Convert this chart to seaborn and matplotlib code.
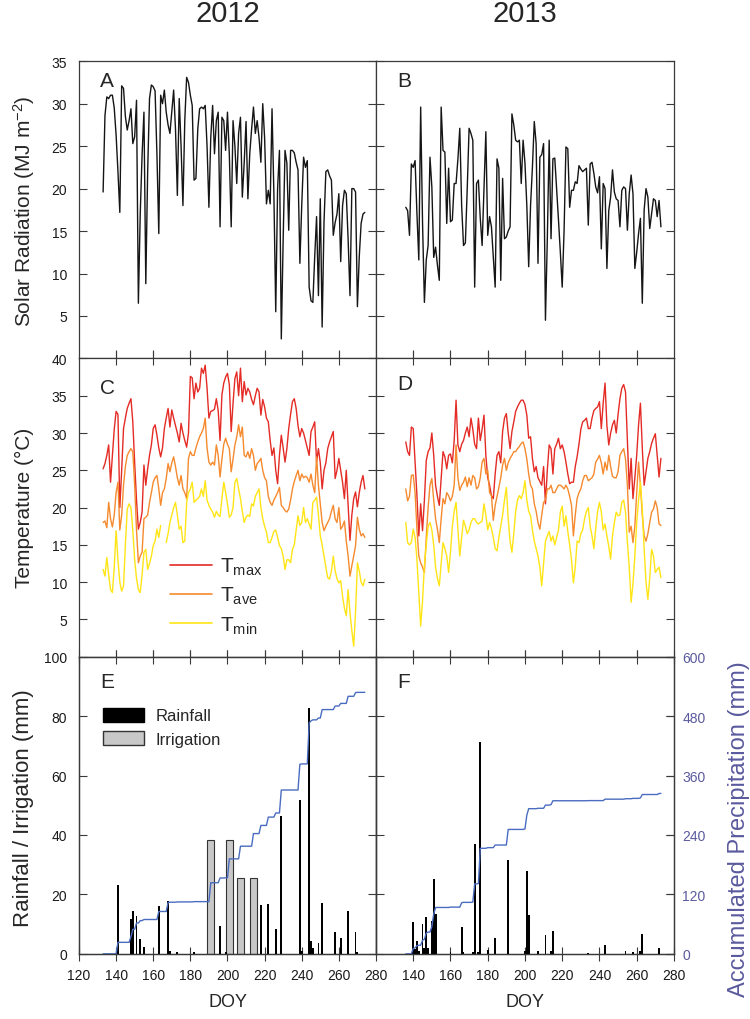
import numpy as np
import pandas as pd
import seaborn as sns
import matplotlib.pyplot as plt
from matplotlib.patches import Patch
from matplotlib.lines import Line2D

# ---- daily weather, values ----
# solar radiation (MJ m-2), 2012 starts DOY 133, 2013 starts DOY 136
solar_2012 = [19.6, 28.6, 30.8, 30.6, 31.0, 31.0, 29.5, 26.3, 22.0, 17.2,
              32.1, 31.8, 28.5, 26.9, 28.0, 29.4, 25.3, 26.1, 30.4, 6.5,
              17.0, 24.0, 29.0, 8.8, 22.0, 30.6, 32.2, 32.0, 31.5, 24.0,
              14.7, 31.0, 30.0, 31.6, 29.0, 27.5, 26.5, 29.0, 31.6, 27.0,
              19.2, 30.6, 25.0, 18.0, 28.0, 33.1, 32.5, 31.0, 29.8, 21.0,
              21.2, 27.0, 29.4, 29.6, 29.4, 29.8, 25.0, 17.8, 26.0, 29.8,
              24.1, 28.0, 29.0, 15.5, 28.4, 28.0, 24.5, 29.0, 24.0, 15.5,
              28.0, 25.0, 20.6, 26.5, 28.4, 19.0, 23.0, 27.9, 18.8, 24.1,
              27.0, 29.6, 26.5, 28.0, 26.0, 23.1, 30.0, 26.0, 18.2, 19.8,
              18.2, 29.4, 19.4, 5.5, 20.0, 24.5, 2.3, 14.0, 24.5, 23.0,
              15.1, 24.5, 24.5, 24.2, 23.1, 22.2, 11.2, 18.0, 23.7, 22.5,
              23.3, 8.4, 6.8, 6.6, 12.0, 16.7, 7.4, 18.8, 3.7, 16.0,
              22.0, 22.2, 21.5, 21.0, 14.5, 16.0, 17.0, 19.4, 11.4, 18.0,
              19.8, 19.4, 14.0, 7.4, 20.0, 20.0, 19.6, 6.1, 12.0, 15.9,
              17.0, 17.2]
solar_2013 = [17.8, 17.4, 14.5, 22.9, 22.5, 23.3, 17.0, 11.6, 29.6, 16.0,
              6.6, 11.6, 13.3, 23.7, 20.2, 11.9, 13.1, 11.0, 9.2, 29.6,
              24.5, 24.3, 15.9, 22.4, 16.1, 16.3, 20.6, 20.6, 23.5, 27.1,
              18.0, 13.3, 13.6, 20.0, 27.1, 26.5, 25.7, 8.4, 20.6, 21.0,
              16.5, 13.3, 20.0, 26.7, 14.5, 16.7, 15.5, 12.0, 8.4, 23.5,
              22.4, 9.2, 21.2, 14.1, 14.3, 15.0, 15.5, 28.8, 27.5, 25.7,
              25.5, 25.7, 20.6, 25.7, 23.0, 18.0, 10.8, 18.0, 22.5, 27.9,
              25.3, 11.2, 23.7, 24.0, 25.3, 4.5, 14.0, 25.7, 14.1, 23.5,
              23.6, 20.0, 16.3, 12.5, 8.4, 15.0, 24.9, 24.7, 17.8, 19.8,
              19.8, 20.8, 20.6, 22.7, 22.3, 22.0, 22.2, 22.4, 15.7, 22.9,
              23.1, 21.8, 20.2, 19.5, 21.4, 12.9, 20.6, 20.0, 10.6, 17.4,
              19.0, 22.2, 19.6, 18.8, 18.6, 15.5, 19.8, 20.2, 20.0, 15.1,
              19.4, 21.6, 19.4, 10.6, 12.5, 14.7, 16.5, 6.5, 17.5, 20.0,
              19.0, 15.3, 17.0, 18.8, 18.6, 16.7, 18.6, 15.5]

# air temperature (degC)
tmax_2012 = [25.2, 25.9, 27.0, 28.4, 23.4, 27.0, 30.5, 32.9, 32.5, 20.0,
             25.0, 30.6, 32.0, 33.3, 34.0, 34.6, 31.5, 26.0, 21.0, 17.1,
             18.0, 19.4, 25.7, 23.0, 25.2, 27.0, 28.4, 30.6, 31.1, 29.7,
             28.0, 26.8, 28.0, 30.6, 32.0, 33.3, 30.8, 33.1, 32.0, 31.0,
             30.0, 28.8, 31.3, 30.0, 29.0, 28.1, 30.0, 37.6, 37.4, 34.6,
             36.7, 35.5, 36.0, 38.7, 38.0, 39.1, 36.0, 32.0, 32.9, 33.0,
             33.2, 34.6, 33.0, 29.0, 35.1, 36.7, 37.5, 38.0, 36.5, 30.2,
             34.0, 37.3, 38.2, 35.0, 38.7, 34.2, 36.9, 35.1, 36.0, 35.5,
             34.5, 33.8, 35.0, 36.0, 35.5, 32.4, 34.5, 33.5, 32.0, 31.5,
             29.0, 27.0, 28.0, 25.0, 23.2, 27.0, 29.7, 28.0, 26.1, 27.9,
             30.6, 32.5, 34.2, 34.6, 33.3, 31.0, 29.5, 30.6, 30.0, 29.0,
             28.0, 27.0, 30.2, 30.8, 31.5, 26.1, 27.9, 26.0, 22.5, 25.0,
             26.0, 27.9, 28.8, 29.5, 30.2, 23.9, 25.0, 26.6, 25.0, 23.4,
             21.2, 25.0, 20.3, 15.6, 19.0, 21.2, 22.1, 20.1, 22.0, 23.4,
             24.3, 22.5]
tave_2012 = [18.0, 18.2, 17.3, 20.7, 18.5, 17.4, 19.0, 22.0, 23.4, 17.0,
             19.0, 23.0, 25.5, 27.0, 27.5, 27.9, 27.5, 23.0, 17.0, 12.6,
             13.5, 14.0, 18.5, 18.7, 19.0, 20.7, 22.0, 23.4, 24.0, 24.3,
             22.5, 20.3, 22.0, 22.5, 23.9, 25.9, 24.8, 26.0, 26.8, 25.5,
             24.0, 23.0, 24.3, 22.5, 22.0, 21.2, 26.6, 27.5, 27.0, 27.0,
             28.0, 28.8, 29.5, 30.0, 30.6, 32.0, 28.0, 26.1, 25.7, 26.1,
             25.7, 28.4, 27.0, 24.1, 26.5, 28.5, 29.3, 28.5, 27.9, 24.8,
             26.5, 28.4, 29.5, 31.1, 29.5, 30.8, 27.0, 26.8, 27.5, 26.6,
             27.9, 27.0, 25.0, 25.9, 26.2, 26.6, 25.0, 24.0, 23.6, 21.5,
             20.7, 20.3, 21.0, 21.5, 22.0, 22.7, 20.3, 20.0, 19.6, 19.4,
             19.8, 21.0, 22.5, 23.5, 24.3, 25.0, 23.6, 24.5, 24.0, 24.2,
             24.0, 23.4, 24.5, 23.0, 22.0, 26.8, 23.0, 20.5, 18.0, 16.9,
             17.5, 18.0, 18.5, 19.5, 20.3, 18.5, 18.0, 20.0, 17.1, 17.5,
             18.2, 15.5, 13.5, 10.8, 12.2, 13.5, 14.9, 18.7, 17.1, 16.2,
             16.5, 16.0]
tmin_2012 = [11.7, 10.8, 13.3, 11.0, 9.0, 8.6, 12.0, 16.9, 13.0, 10.0,
             8.8, 9.5, 15.0, 19.8, 20.5, 20.0, 17.0, 13.0, 10.5, 9.0,
             8.6, 11.0, 14.0, 14.4, 11.7, 12.5, 13.5, 14.9, 15.5, 17.1,
             16.0, 17.6, np.nan, np.nan, 15.3, 16.5, 18.0, 19.0, 20.0, 20.7,
             19.0, 17.1, 17.5, 15.3, 15.5, 20.7, 22.0, 22.5, 23.4, 20.7,
             21.0, 21.2, 21.5, 22.5, 21.5, 23.6, 21.0, 20.3, 19.8, 19.4,
             18.7, 19.5, 19.0, 18.8, 21.2, 23.4, 22.0, 20.5, 18.7, 19.0,
             20.0, 23.4, 23.9, 22.5, 21.2, 19.5, 18.0, 18.7, 19.0, 18.8,
             20.5, 20.2, 21.5, 22.0, 22.5, 20.0, 18.5, 17.5, 16.7, 15.3,
             15.3, 16.0, 16.8, 17.0, 16.0, 14.9, 14.5, 13.5, 11.7, 13.0,
             13.0, 12.6, 14.4, 15.0, 17.0, 18.9, 17.6, 18.0, 20.0, 18.0,
             18.5, 17.8, 17.1, 20.7, 21.0, 21.4, 19.0, 16.2, 15.0, 13.5,
             12.0, 10.6, 10.4, 11.5, 13.5, 11.5, 10.5, 9.9, 10.2, 8.1,
             6.5, 5.5, 9.0, 5.9, 3.5, 1.4, 6.0, 12.6, 11.5, 10.0,
             9.5, 10.4]
tmax_2013 = [28.8, 27.5, 27.0, 30.8, 30.6, 26.0, 21.6, 16.2, 20.5, 16.9,
             21.0, 26.3, 27.5, 28.0, 30.0, 27.0, 23.0, 21.5, 20.3, 24.0,
             27.5, 26.8, 25.2, 27.0, 27.2, 26.0, 29.0, 34.4, 28.4, 27.5,
             28.5, 29.0, 30.0, 30.8, 29.5, 32.0, 30.5, 28.5, 27.9, 32.0,
             29.0, 30.5, 32.4, 27.0, 24.0, 23.0, 21.6, 21.2, 24.5, 27.0,
             27.5, 26.0, 30.2, 32.0, 32.6, 30.0, 27.9, 30.2, 31.5, 32.9,
             33.5, 34.0, 34.4, 34.4, 33.8, 32.4, 29.3, 29.5, 26.6, 24.8,
             25.5, 24.0, 23.5, 23.0, 25.5, 20.5, 25.0, 28.4, 27.9, 24.5,
             27.9, 28.5, 29.3, 27.9, 28.4, 27.5, 26.1, 24.5, 23.2, 23.4,
             23.4, 25.5, 26.8, 28.5, 30.5, 31.5, 31.7, 32.0, 30.6, 30.6,
             32.0, 33.0, 33.3, 33.5, 34.2, 30.6, 34.0, 36.7, 31.0, 28.4,
             30.0, 31.1, 31.7, 30.0, 32.5, 34.6, 36.0, 36.5, 35.5, 29.0,
             22.5, 26.6, 21.2, 24.0, 27.0, 31.1, 34.0, 28.0, 23.0, 24.8,
             26.6, 27.5, 28.6, 29.3, 29.9, 27.0, 24.1, 26.6]
tave_2013 = [22.5, 20.9, 21.5, 24.3, 24.4, 22.0, 17.1, 13.5, 12.6, 12.0,
             11.3, 16.0, 20.0, 23.0, 23.9, 21.0, 18.5, 17.1, 15.3, 18.5,
             21.2, 20.5, 22.0, 21.6, 20.9, 21.5, 23.0, 28.4, 24.0, 22.3,
             23.0, 23.4, 24.1, 22.8, 24.0, 23.0, 24.3, 24.0, 22.5, 22.8,
             24.0, 26.1, 26.6, 24.5, 25.0, 22.0, 21.6, 18.3, 20.3, 21.5,
             22.7, 24.0, 25.7, 26.6, 25.0, 26.0, 26.6, 27.0, 27.5, 27.5,
             27.9, 28.2, 28.6, 28.8, 27.9, 26.5, 24.5, 23.0, 22.5, 20.5,
             19.5, 18.0, 17.1, 19.0, 20.7, 21.0, 22.5, 22.5, 23.0, 22.0,
             22.0, 22.5, 23.0, 23.0, 22.8, 22.5, 23.0, 22.5, 21.5, 20.3,
             16.2, 19.0, 21.2, 22.0, 22.5, 23.6, 24.3, 24.3, 23.6, 23.8,
             24.0, 24.5, 26.1, 26.5, 27.0, 26.0, 24.5, 26.1, 25.0, 27.0,
             25.5, 24.2, 24.0, 24.0, 24.8, 27.0, 27.5, 27.9, 26.5, 23.0,
             16.7, 17.5, 15.3, 17.5, 22.0, 26.1, 23.0, 19.0, 16.2, 15.5,
             16.5, 18.0, 19.4, 19.8, 20.9, 20.0, 17.8, 17.6]
tmin_2013 = [18.0, 15.3, 15.0, 15.3, 17.1, 16.0, 13.0, 8.5, 4.1, 7.5,
             12.2, 15.0, 17.5, 18.0, 17.0, 15.0, 12.0, 10.5, 9.5, 12.5,
             15.3, 14.5, 13.5, 11.3, 14.0, 17.5, 19.5, 20.7, 17.0, 13.5,
             16.0, 18.3, 17.5, 16.5, 17.0, 18.0, 18.5, 18.5, 18.0, 17.8,
             18.0, 18.2, 20.5, 19.0, 17.0, 18.0, 17.2, 16.0, 14.5, 14.2,
             16.0, 17.5, 19.0, 21.0, 22.7, 18.5, 15.5, 14.0, 16.5, 19.5,
             21.0, 21.6, 21.2, 22.0, 23.6, 21.0, 19.5, 18.9, 17.0, 15.5,
             14.5, 13.5, 12.0, 9.5, 12.5, 15.5, 16.2, 16.8, 15.5, 16.2,
             15.0, 16.0, 17.0, 19.4, 20.2, 17.5, 18.9, 16.8, 15.0, 13.0,
             9.9, 12.0, 15.5, 15.3, 16.5, 17.0, 18.5, 19.5, 20.0, 17.5,
             16.2, 14.5, 17.2, 19.5, 20.7, 19.4, 17.0, 17.8, 16.2, 14.8,
             13.1, 16.2, 18.0, 19.4, 18.9, 19.0, 20.7, 21.0, 19.4, 15.3,
             12.0, 7.3, 9.8, 13.5, 18.0, 21.0, 23.4, 19.8, 14.4, 10.0,
             7.7, 10.5, 14.4, 13.5, 11.3, 11.7, 12.0, 10.6]

start_2012 = 133
start_2013 = 136

# rainfall / irrigation events (DOY, mm)
rain12_doy = [141, 148, 149, 151, 153, 155, 163, 168, 169, 173, 182, 196, 199,
              218, 222, 226, 229, 239, 240, 244, 245, 246, 249, 251, 258, 261,
              265, 269, 270]
rain12_mm = [23.2, 11.7, 14.5, 12.8, 4.9, 2.2, 16.2, 17.9, 0.8, 0.6, 0.6, 9.5, 0.5,
             16.5, 16.8, 8.3, 46.4, 51.9, 0.8, 82.6, 4.4, 2.0, 3.6, 17.1, 7.2, 5.3,
             14.3, 7.5, 0.5]
irr12_doy = [191, 201, 207, 214]
irr12_mm = [38.2, 38.2, 25.5, 25.5]

rain13_doy = [140, 141, 142, 143, 145, 146, 147, 148, 150, 151, 152, 160, 166, 167,
              172, 173, 175, 176, 180, 184, 191, 200, 201, 202, 207, 211, 214, 215,
              234, 243, 254, 258, 262, 263, 272]
rain13_mm = [10.6, 1.5, 4.2, 1.0, 10.0, 2.1, 12.5, 2.0, 11.1, 25.2, 13.4, 0.7, 8.9, 0.7,
             0.5, 36.8, 0.7, 71.2, 1.3, 5.3, 31.5, 1.0, 27.8, 13.1, 0.8, 6.4, 1.0, 7.8,
             0.3, 2.9, 0.9, 0.7, 1.0, 6.8, 2.1]

RED, ORANGE, YELLOW = '#e42b25', '#f58a2e', '#ffe515'
BLUE = '#4a6cc0'
SLATE = '#5a5a9e'
SPINE = '#3a3a3a'


def daily(start, values):
    df = pd.DataFrame({'doy': np.arange(start, start + len(values)), 'val': values})
    # a new segment after each gap so the line breaks there
    df['seg'] = df['val'].isna().cumsum()
    return df.dropna()


def accumulated(start, end, doys, mms):
    s = pd.Series(0.0, index=np.arange(start, end + 1))
    for d, m in zip(doys, mms):
        s.loc[d] += m
    return s.cumsum()


sns.set_style('ticks')
plt.rcParams['font.family'] = ['Liberation Sans', 'DejaVu Sans']
plt.rcParams['mathtext.fontset'] = 'custom'
plt.rcParams['mathtext.rm'] = 'Liberation Sans'
plt.rcParams['mathtext.it'] = 'Liberation Sans:italic'
plt.rcParams['axes.edgecolor'] = SPINE
plt.rcParams['axes.linewidth'] = 0.9

fig = plt.figure(figsize=(7.5, 10.2), dpi=100)
lefts = [0.1053, 0.5013]
widths = [0.3960, 0.3973]
rows = [(0.6476, 0.2914), (0.3552, 0.2924), (0.0639, 0.2913)]
axes = [[fig.add_axes([lefts[c], rows[r][0], widths[c], rows[r][1]]) for c in range(2)]
        for r in range(3)]
axA, axB = axes[0]
axC, axD = axes[1]
axE, axF = axes[2]

# --- solar radiation ---
for ax, start, vals in [(axA, start_2012, solar_2012), (axB, start_2013, solar_2013)]:
    sns.lineplot(data=daily(start, vals), x='doy', y='val', units='seg', estimator=None,
                 ax=ax, color='#151515', lw=1.0)

# --- temperature ---
for ax, start, series in [(axC, start_2012, [tmax_2012, tave_2012, tmin_2012]),
                          (axD, start_2013, [tmax_2013, tave_2013, tmin_2013])]:
    for vals, col in zip(series, [RED, ORANGE, YELLOW]):
        sns.lineplot(data=daily(start, vals), x='doy', y='val', units='seg', estimator=None,
                     ax=ax, color=col, lw=1.0)

# --- rainfall / irrigation + accumulated ---
twins = []
for ax, rd, rm, idoy, imm, start, end in [
        (axE, rain12_doy, rain12_mm, irr12_doy, irr12_mm, start_2012, 274),
        (axF, rain13_doy, rain13_mm, [], [], start_2013, 273)]:
    if idoy:
        ax.bar(idoy, imm, width=4.0, color='#c8c8c8', edgecolor='#333333', linewidth=0.8,
               zorder=2)
    ax.bar(rd, rm, width=1.0, color='black', linewidth=0, zorder=3)
    tw = ax.twinx()
    acc = accumulated(start, end, rd + idoy, rm + imm)
    sns.lineplot(x=acc.index.values, y=acc.values, estimator=None, ax=tw, color=BLUE, lw=1.0)
    tw.set_ylim(0, 600)
    tw.set_yticks(np.arange(0, 601, 120))
    tw.set(xlabel='', ylabel='')
    twins.append(tw)

# --- axes styling ---
def style(ax, ylim, yticks, xticks, xlabels, top, ylabels):
    ax.set(xlabel='', ylabel='')
    ax.set_xlim(120, 280)
    ax.set_ylim(*ylim)
    ax.set_yticks(yticks)
    ax.set_xticks(xticks)
    ax.tick_params(axis='y', direction='in', length=5.5, width=0.8, color=SPINE,
                   left=True, right=True, labelleft=ylabels, labelright=False,
                   labelsize=10, pad=8.5, labelcolor='#1a1a1a')
    ax.tick_params(axis='x', direction='inout' if top else 'in',
                   length=10 if top else 5.5, width=0.8, color=SPINE,
                   top=top, bottom=True, labelbottom=xlabels, labelsize=10,
                   pad=5.5, labelcolor='#1a1a1a')


inner = np.arange(140, 261, 20)
style(axA, (0, 35), np.arange(5, 36, 5), inner, False, False, True)
style(axB, (0, 35), np.arange(5, 36, 5), inner, False, False, False)
style(axC, (0, 40), np.arange(5, 41, 5), inner, False, True, True)
style(axD, (0, 40), np.arange(5, 41, 5), inner, False, True, False)
style(axE, (0, 100), np.arange(0, 101, 20), np.arange(120, 281, 20), True, True, True)
style(axF, (0, 100), np.arange(0, 101, 20), np.arange(140, 281, 20), True, True, False)

twins[0].tick_params(axis='y', right=False, labelright=False)
twins[1].tick_params(axis='y', direction='in', length=5.5, width=0.8, color=SPINE,
                     right=True, labelright=True, labelsize=10, pad=6, labelcolor=SLATE)

# panel letters
for ax, letter, ypos in [(axA, 'A', 0.935), (axB, 'B', 0.935), (axC, 'C', 0.903),
                         (axD, 'D', 0.917), (axE, 'E', 0.916), (axF, 'F', 0.916)]:
    ax.text(0.07, ypos, letter, transform=ax.transAxes, fontsize=15, va='center', ha='left')

# legends
temp_handles = [Line2D([], [], color=c, lw=1.2) for c in (RED, ORANGE, YELLOW)]
axC.legend(temp_handles, ['T$_\\mathregular{max}$', 'T$_\\mathregular{ave}$', 'T$_\\mathregular{min}$'],
           loc='upper left', bbox_to_anchor=(0.306, 0.338), frameon=False, fontsize=15,
           handlelength=2.0, handletextpad=0.4, labelspacing=0.38, borderaxespad=0,
           borderpad=0)
axE.legend([Patch(facecolor='black', edgecolor='black'),
            Patch(facecolor='#c8c8c8', edgecolor='#333333')],
           ['Rainfall', 'Irrigation'], loc='upper left', bbox_to_anchor=(0.08, 0.828),
           frameon=False, fontsize=12, handlelength=2.5, handleheight=0.9,
           handletextpad=0.65, labelspacing=0.45, borderaxespad=0, borderpad=0)

# figure texts
H = 1020.0
fig.text(227.5 / 750, 1 - 14 / H, '2012', ha='center', va='center', fontsize=21)
fig.text(525 / 750, 1 - 14 / H, '2013', ha='center', va='center', fontsize=21)
fig.text(24 / 750, 1 - 211 / H, 'Solar Radiation (MJ m$^{-2}$)', rotation=90,
         ha='center', va='center', fontsize=15)
fig.text(24 / 750, 1 - 508 / H, 'Temperature (\u00b0C)', rotation=90,
         ha='center', va='center', fontsize=15)
fig.text(24 / 750, 1 - 808 / H, 'Rainfall / Irrigation (mm)', rotation=90,
         ha='center', va='center', fontsize=16)
fig.text(739 / 750, 1 - 829 / H, 'Accumulated Precipitation (mm)', rotation=90,
         ha='center', va='center', fontsize=17, color=SLATE)
fig.text(227.5 / 750, 1 - 1003 / H, 'DOY', ha='center', va='center', fontsize=13)
fig.text(525 / 750, 1 - 1003 / H, 'DOY', ha='center', va='center', fontsize=13)

fig.savefig('out.png', dpi=100)
